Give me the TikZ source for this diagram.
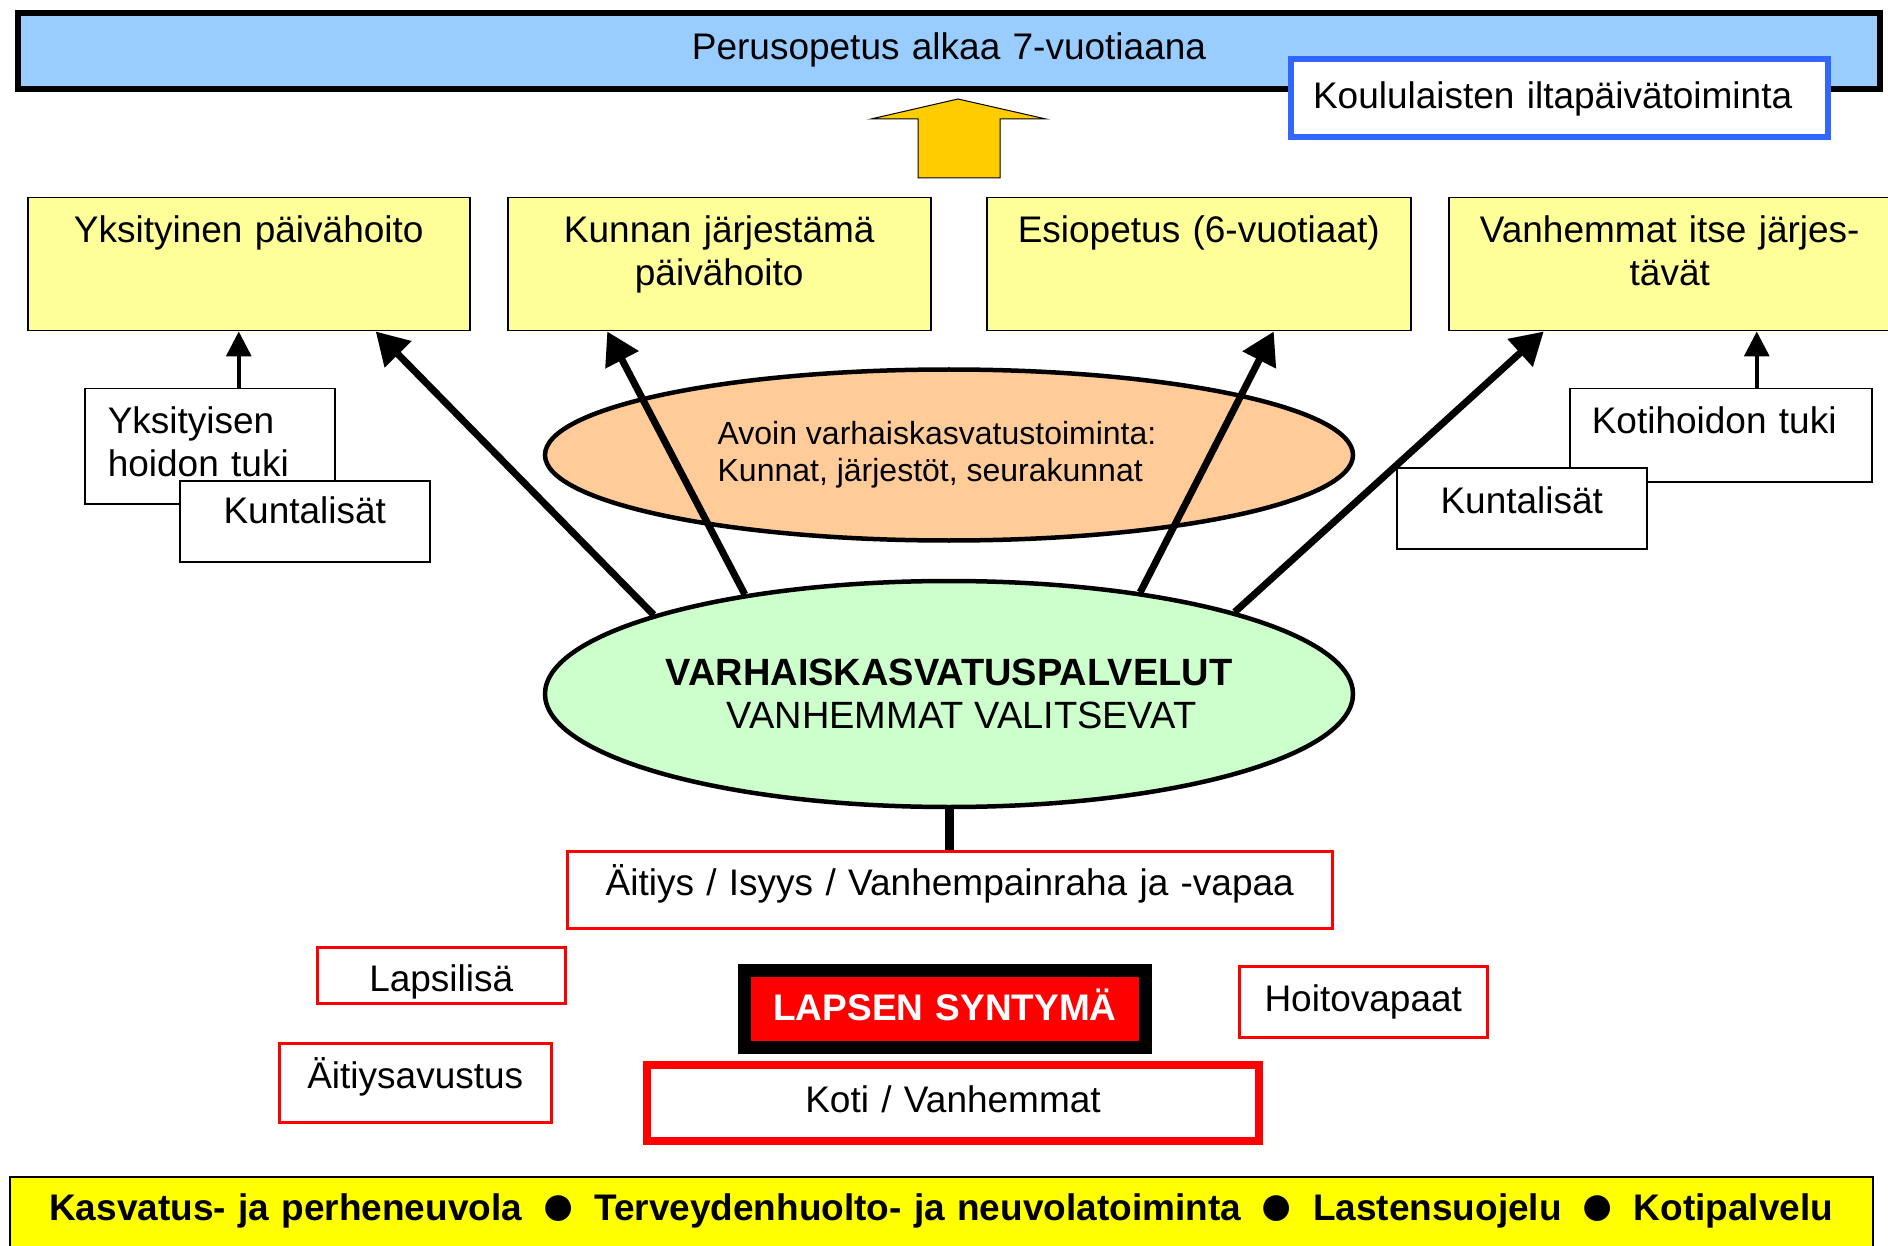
\documentclass[tikz,border=0pt]{standalone}
\usepackage{fontspec}
\setmainfont{Liberation Sans}
\usetikzlibrary{shapes.geometric,arrows.meta}

\definecolor{barblue}{HTML}{99CCFF}
\definecolor{frameblue}{HTML}{3366FF}
\definecolor{boxyellow}{HTML}{FFFF99}
\definecolor{avoinorange}{HTML}{FFCC99}
\definecolor{varhgreen}{HTML}{CCFFCC}
\definecolor{arrowgold}{HTML}{FFCC00}
\definecolor{baryellow}{HTML}{FFFF00}

\newcommand{\dotsep}{\makebox[72pt]{\raisebox{-5pt}{\fontsize{60}{60}\selectfont ●}}}

\begin{document}
\begin{tikzpicture}[x=1pt, y=-1pt, font=\fontsize{37}{43}\selectfont,
  ybox/.style={draw, line width=1.5pt, fill=boxyellow, anchor=north west, inner sep=0pt,
    align=center, text height=45pt, text depth=88pt},
  wbox/.style={draw, line width=1.5pt, fill=white, anchor=north west, inner sep=0pt},
  rbox/.style={draw=red, line width=2.5pt, fill=white, anchor=north west, inner sep=0pt, align=center},
  bigarrow/.style={line width=7pt, -{Triangle[length=32pt,width=36pt]}},
  smallarrow/.style={line width=3.5pt, -{Triangle[length=25pt,width=25pt]}}]
\useasboundingbox (0,0) rectangle (1888,1246);

% school row
\node[draw, line width=6pt, fill=barblue, anchor=north west, inner sep=0pt, text width=1862pt,
  align=center, text height=47pt, text depth=29pt] (perus) at (15,10) {Perusopetus alkaa 7-vuotiaana};
\node[draw=frameblue, line width=6pt, fill=white, anchor=north west, inner sep=0pt, inner xsep=22pt,
  text width=493pt, align=left, text height=50pt, text depth=28pt] (iltap) at (1288,56)
  {Koululaisten iltapäivätoiminta};

\draw[fill=arrowgold, line width=1pt] (918,178) -- (918,119) -- (871,119) -- (958,99)
  -- (1046,119) -- (1000,119) -- (1000,178) -- cycle;

% care options
\node[ybox, text width=442pt] (yksit) at (27,197) {Yksityinen päivähoito};
\node[ybox, text width=423pt] (kunnan) at (507,197) {Kunnan järjestämä\\päivähoito};
\node[ybox, text width=424pt] (esiop) at (986,197) {Esiopetus (6-vuotiaat)};
\node[ybox, text width=442pt] (vanhit) at (1448,197) {Vanhemmat itse järjes-\\tävät};

\node[ellipse, draw, line width=4.5pt, fill=avoinorange, minimum width=808pt, minimum height=171pt,
  inner sep=0pt, align=left, font=\fontsize{32}{37}\selectfont] (avoin) at (949,455)
  {Avoin varhaiskasvatustoiminta:\hspace*{24pt}\\Kunnat, järjestöt, seurakunnat};
\node[ellipse, draw, line width=4.5pt, fill=varhgreen, minimum width=808pt, minimum height=226pt,
  inner sep=0pt, align=center, font=\fontsize{38}{43}\selectfont] (varhais) at (949,694)
  {\textbf{VARHAISKASVATUSPALVELUT}\\\hspace*{25pt}VANHEMMAT VALITSEVAT};

\draw[bigarrow] (varhais.165) -- ([xshift=127pt]yksit.south);
\draw[bigarrow] (varhais.154) -- ([xshift=-112pt]kunnan.south);
\draw[bigarrow] (varhais.28) -- ([xshift=75pt]esiop.south);
\draw[bigarrow] (varhais.16) -- ([xshift=-126pt]vanhit.south);

% supports
\node[wbox, align=left, inner xsep=23pt, text width=204pt, text height=45pt, text depth=70pt]
  (yhtuki) at (84,388) {Yksityisen\\hoidon tuki};
\node[wbox, align=center, text width=250pt, text height=43pt, text depth=38pt]
  (kuntvas) at (179,480) {Kuntalisät};
\node[wbox, align=left, inner xsep=22pt, text width=258pt, text height=45pt, text depth=48pt]
  (kotituki) at (1569,388) {Kotihoidon tuki};
\node[wbox, align=center, text width=250pt, text height=46pt, text depth=35pt]
  (kuntoik) at (1396,467) {Kuntalisät};

\coordinate (yhtop) at ([xshift=29pt]yhtuki.north);
\coordinate (kttop) at ([xshift=36pt]kotituki.north);
\draw[smallarrow] (yhtop) -- (yhtop |- yksit.south);
\draw[smallarrow] (kttop) -- (kttop |- vanhit.south);

% birth
\node[rbox, text width=765pt, text height=44pt, text depth=33pt] (aitiys) at (566,850)
  {Äitiys / Isyys / Vanhempainraha ja -vapaa};
\draw[line width=9pt] (varhais.south) -- (varhais.south |- aitiys.north);

\node[rbox, text width=248pt, text height=44pt, text depth=12pt] (lapsilisa) at (316,946) {Lapsilisä};
\node[rbox, text width=248pt, text height=45pt, text depth=26pt] (hoitova) at (1238,965) {Hoitovapaat};
\node[rbox, text width=272pt, text height=45pt, text depth=34pt] (aitiysav) at (278,1042) {Äitiysavustus};
\node[rbox, line width=8pt, text width=612pt, text height=47pt, text depth=29pt] (koti) at (643,1061)
  {Koti / Vanhemmat};
\node[draw, line width=13pt, fill=red, text=white, font=\fontsize{37}{43}\selectfont\bfseries,
  anchor=north west, inner sep=0pt, text width=401pt, align=center, text height=50pt, text depth=27pt]
  (syntyma) at (738,964) {LAPSEN SYNTYMÄ};

\node[draw, line width=1.5pt, fill=baryellow, anchor=north west, inner sep=0pt, text width=1863pt,
  align=center, text height=44pt, text depth=40pt, font=\fontsize{37}{43}\selectfont\bfseries]
  (palvelut) at (9,1176) {Kasvatus- ja perheneuvola\dotsep Terveydenhuolto- ja
  neuvolatoiminta\dotsep Lastensuojelu\dotsep Kotipalvelu};
\end{tikzpicture}
\end{document}
